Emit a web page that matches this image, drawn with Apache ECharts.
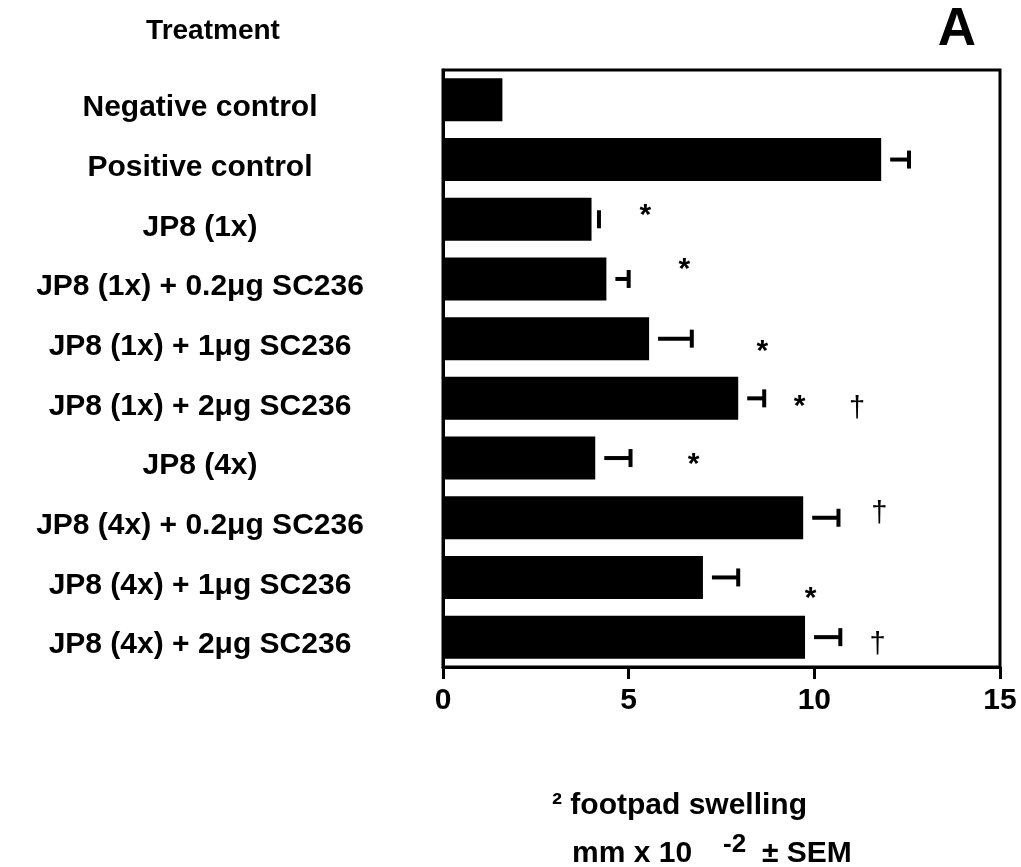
<!DOCTYPE html>
<html>
<head>
<meta charset="utf-8">
<script src="https://cdn.jsdelivr.net/npm/echarts@6/dist/echarts.min.js"></script>
<style>
html,body{margin:0;padding:0;background:#fff;}
#chart{width:1021px;height:867px;}
</style>
</head>
<body>
<div id="chart"></div>
<script>
const categories = [
  'Negative control',
  'Positive control',
  'JP8 (1x)',
  'JP8 (1x) + 0.2μg SC236',
  'JP8 (1x) + 1μg SC236',
  'JP8 (1x) + 2μg SC236',
  'JP8 (4x)',
  'JP8 (4x) + 0.2μg SC236',
  'JP8 (4x) + 1μg SC236',
  'JP8 (4x) + 2μg SC236'
];
const meanValues = [1.6, 11.8, 4.0, 4.4, 5.55, 7.95, 4.1, 9.7, 7.0, 9.75];
const semValues  = [0, 0.75, 0.2, 0.6, 1.15, 0.7, 0.95, 0.95, 0.95, 0.95];
const xTicks = [0, 5, 10, 15];

// significance marks: category index, value-axis position, symbol, shift within band
const markCategory = [2, 3, 4, 5, 5, 6, 7, 8, 9];
const markValue    = [5.45, 6.5, 8.6, 9.6, 11.15, 6.75, 11.75, 9.9, 11.7];
const markSymbol   = ['*', '*', '*', '*', '†', '*', '†', '*', '†'];
const markShift    = [-0.18, -0.27, 0.11, 0.03, 0.18, 0, -0.07, 0.24, 0.13];

const FONT = '"Liberation Sans", Arial, Helvetica, sans-serif';

const chart = echarts.init(document.getElementById('chart'), null, {renderer: 'canvas'});

const errData = categories.map((c, i) => [i, meanValues[i], semValues[i]]);
const markData = markCategory.map((c, i) => [c, markValue[i], markShift[i]]);

const option = {
  animation: false,
  backgroundColor: '#fff',
  grid: {
    left: 443, right: 21, top: 70, height: 597,
    show: true, borderColor: '#000', borderWidth: 3, backgroundColor: 'transparent'
  },
  xAxis: {
    type: 'value',
    min: xTicks[0], max: xTicks[xTicks.length - 1], interval: 5,
    axisLine: {show: true, lineStyle: {color: '#000', width: 3}},
    axisTick: {show: true, inside: false, length: 12, lineStyle: {color: '#000', width: 3}},
    splitLine: {show: false},
    axisLabel: {
      color: '#000', fontFamily: FONT, fontWeight: 'bold', fontSize: 30, margin: 19,
      formatter: v => xTicks.includes(v) ? String(v) : ''
    }
  },
  yAxis: {
    type: 'category',
    data: categories,
    inverse: true,
    axisLine: {show: true, lineStyle: {color: '#000', width: 3}},
    axisTick: {show: false},
    axisLabel: {
      color: '#000', fontFamily: FONT, fontWeight: 'bold', fontSize: 30,
      align: 'center', margin: 243, verticalAlign: 'top', lineHeight: 16
    }
  },
  series: [
    {
      type: 'bar',
      data: meanValues,
      barCategoryGap: '28%',
      itemStyle: {color: '#000'},
      z: 2
    },
    {
      type: 'custom',
      data: errData,
      encode: {x: 1, y: 0},
      z: 3,
      renderItem: function (params, api) {
        const cat = api.value(0), v = api.value(1), e = api.value(2);
        if (!e) return null;
        const p0 = api.coord([v, cat]);
        const p1 = api.coord([v + e, cat]);
        const children = [];
        const startX = p0[0] + 9;
        if (p1[0] - startX > 0) {
          children.push({type: 'rect', shape: {x: startX, y: p0[1] - 2, width: p1[0] - startX, height: 4}, style: {fill: '#000'}});
        }
        children.push({type: 'rect', shape: {x: p1[0] - 2, y: p0[1] - 9, width: 4, height: 18}, style: {fill: '#000'}});
        return {type: 'group', children: children};
      }
    },
    {
      type: 'custom',
      data: markData,
      encode: {x: 1, y: 0},
      z: 4,
      renderItem: function (params, api) {
        const cat = api.value(0), v = api.value(1), s = api.value(2);
        const p = api.coord([v, cat]);
        const band = api.size([0, 1])[1];
        const sym = markSymbol[params.dataIndex];
        const isStar = sym === '*';
        return {
          type: 'text',
          x: p[0],
          y: p[1] + s * band + (isStar ? 7 : 0),
          style: {
            text: sym,
            fill: '#000',
            font: (isStar ? 'bold 30px ' : 'normal 29px ') + FONT,
            align: 'center',
            verticalAlign: 'middle'
          }
        };
      }
    }
  ],
  graphic: [
    {type: 'text', x: 213, y: 31, style: {text: 'Treatment', font: 'bold 28px ' + FONT, fill: '#000', align: 'center', verticalAlign: 'middle'}},
    {type: 'text', x: 957, y: 30, style: {text: 'A', font: 'bold 53px ' + FONT, fill: '#000', align: 'center', verticalAlign: 'middle'}},
    {type: 'text', x: 552, y: 806, style: {text: '² footpad swelling', font: 'bold 30px ' + FONT, fill: '#000', align: 'left', verticalAlign: 'middle'}},
    {type: 'text', x: 572, y: 854, style: {text: 'mm x 10', font: 'bold 30px ' + FONT, fill: '#000', align: 'left', verticalAlign: 'middle'}},
    {type: 'text', x: 723, y: 845, style: {text: '-2', font: 'bold 26px ' + FONT, fill: '#000', align: 'left', verticalAlign: 'middle'}},
    {type: 'text', x: 762, y: 854, style: {text: '± SEM', font: 'bold 30px ' + FONT, fill: '#000', align: 'left', verticalAlign: 'middle'}}
  ]
};
chart.setOption(option);
</script>
</body>
</html>
